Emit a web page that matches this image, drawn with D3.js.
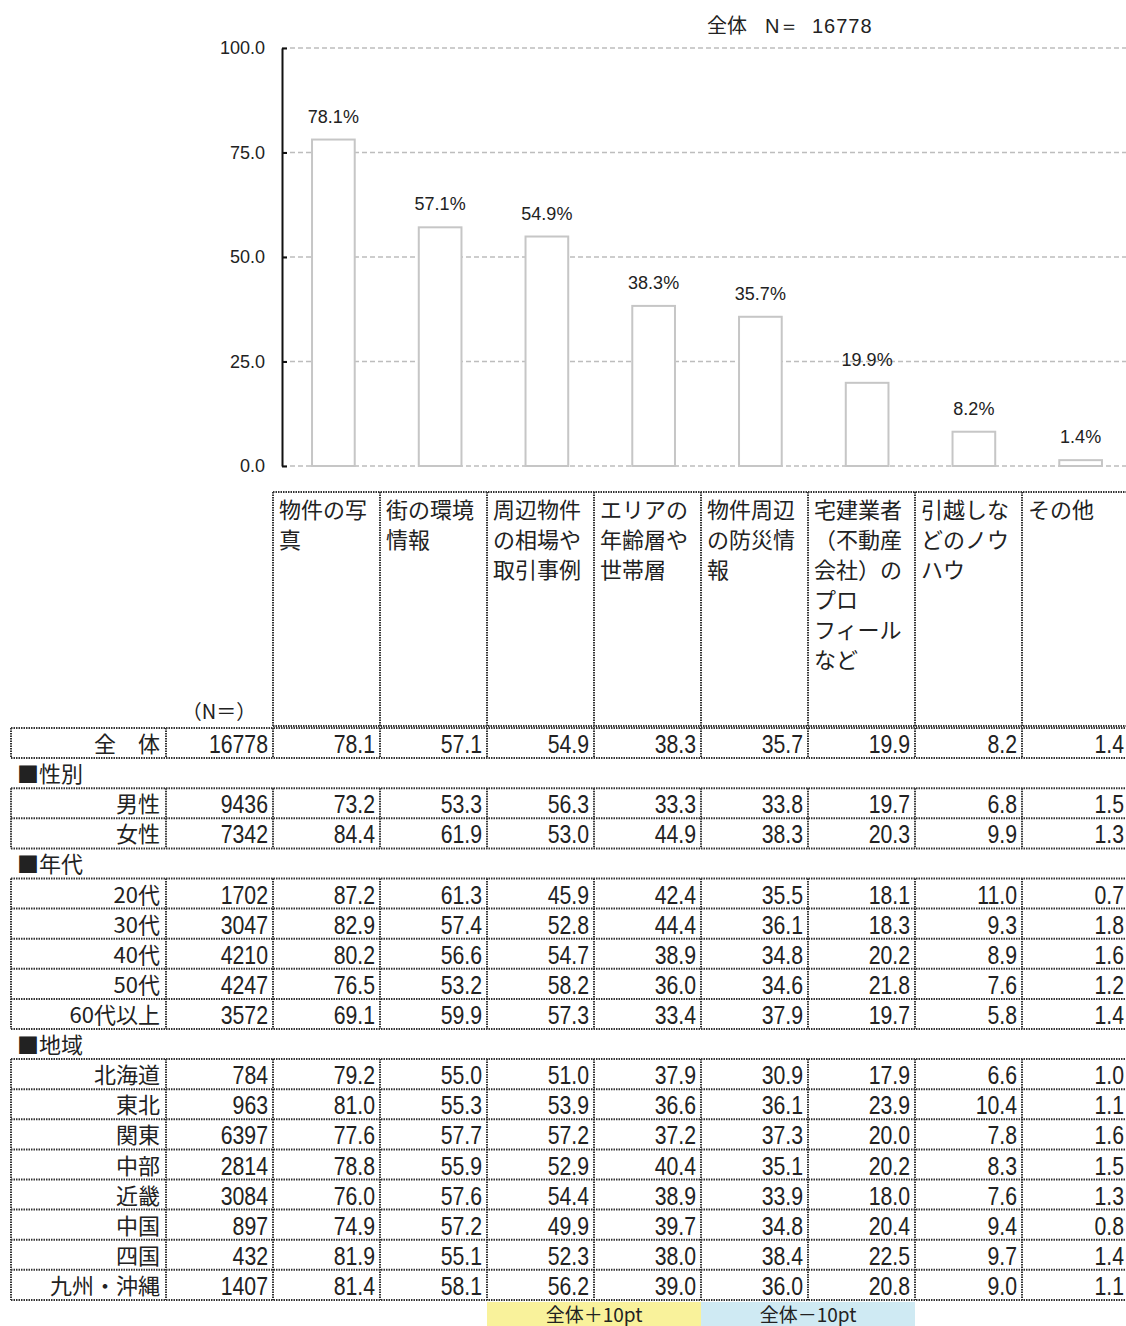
<!DOCTYPE html>
<html><head><meta charset="utf-8">
<script src="https://cdn.jsdelivr.net/npm/d3@7"></script>
<style>
html,body{margin:0;padding:0;background:#fff;}
svg{display:block;}
</style></head>
<body>
<script>
// ---------- DATA ----------
const categories = ["物件の写真","街の環境情報","周辺物件の相場や取引事例","エリアの年齢層や世帯層","物件周辺の防災情報","宅建業者（不動産会社）のプロフィールなど","引越しなどのノウハウ","その他"];
const headerLines = [
  ["物件の写","真"],
  ["街の環境","情報"],
  ["周辺物件","の相場や","取引事例"],
  ["エリアの","年齢層や","世帯層"],
  ["物件周辺","の防災情","報"],
  ["宅建業者","（不動産","会社）の","プロ","フィール","など"],
  ["引越しな","どのノウ","ハウ"],
  ["その他"]
];
const overallLabel = "全　体";
const overallN = 16778;
const overallValues = [78.1,57.1,54.9,38.3,35.7,19.9,8.2,1.4];
const yTicks = [0,25,50,75,100];

const genderTitle = "■性別";
const genderLabels = ["男性","女性"];
const genderN = [9436,7342];
const genderValues = [
  [73.2,53.3,56.3,33.3,33.8,19.7,6.8,1.5],
  [84.4,61.9,53.0,44.9,38.3,20.3,9.9,1.3]
];
const ageTitle = "■年代";
const ageLabels = ["20代","30代","40代","50代","60代以上"];
const ageN = [1702,3047,4210,4247,3572];
const ageValues = [
  [87.2,61.3,45.9,42.4,35.5,18.1,11.0,0.7],
  [82.9,57.4,52.8,44.4,36.1,18.3,9.3,1.8],
  [80.2,56.6,54.7,38.9,34.8,20.2,8.9,1.6],
  [76.5,53.2,58.2,36.0,34.6,21.8,7.6,1.2],
  [69.1,59.9,57.3,33.4,37.9,19.7,5.8,1.4]
];
const regionTitle = "■地域";
const regionLabels = ["北海道","東北","関東","中部","近畿","中国","四国","九州・沖縄"];
const regionN = [784,963,6397,2814,3084,897,432,1407];
const regionValues = [
  [79.2,55.0,51.0,37.9,30.9,17.9,6.6,1.0],
  [81.0,55.3,53.9,36.6,36.1,23.9,10.4,1.1],
  [77.6,57.7,57.2,37.2,37.3,20.0,7.8,1.6],
  [78.8,55.9,52.9,40.4,35.1,20.2,8.3,1.5],
  [76.0,57.6,54.4,38.9,33.9,18.0,7.6,1.3],
  [74.9,57.2,49.9,39.7,34.8,20.4,9.4,0.8],
  [81.9,55.1,52.3,38.0,38.4,22.5,9.7,1.4],
  [81.4,58.1,56.2,39.0,36.0,20.8,9.0,1.1]
];
const legendItems = ["全体＋10pt","全体－10pt"];
const titleParts = ["全体","N＝","16778"];
const nHeader = "（N＝）";

// ---------- STYLE ----------
const W = 1126, H = 1326;
const JP = "'Noto Sans CJK JP','Noto Sans CJK SC',sans-serif";
const NUM = "'Liberation Sans Narrow','Arial Narrow','Liberation Sans',sans-serif";
const SANS = "'Liberation Sans',Arial,sans-serif";
const textColor = "#222";
const borderColor = "#333";
const upColor = "#f9f29b";
const downColor = "#cfeaf3";

const svg = d3.select("body").append("svg").attr("width", W).attr("height", H);

// ---------- CHART ----------
const y = d3.scaleLinear().domain([0,100]).range([466,48]);
const xBar = d3.scaleBand().domain(categories).range([280,1134]).padding(0);
const barW = xBar.bandwidth()*0.4;
const axisX = 282;

svg.append("g").selectAll("line").data(yTicks).join("line")
  .attr("x1", axisX).attr("x2", W)
  .attr("y1", d=>y(d)).attr("y2", d=>y(d))
  .attr("stroke", "#bdbdbd").attr("stroke-width", 1.5).attr("stroke-dasharray", "5 3");

const yAxis = svg.append("g").attr("transform", `translate(${axisX},0)`)
  .call(d3.axisLeft(y).tickValues(yTicks).tickFormat(d3.format(".1f")).tickSizeInner(-5).tickSizeOuter(0).tickPadding(17));
yAxis.select(".domain").attr("stroke", "#111").attr("stroke-width", 2);
yAxis.selectAll(".tick line").attr("stroke", "#111").attr("stroke-width", 2);
yAxis.selectAll(".tick text").attr("font-family", SANS).attr("font-size", 18).attr("fill", textColor);

svg.append("g").selectAll("rect").data(overallValues).join("rect")
  .attr("x", (d,i)=>xBar(categories[i]) + xBar.bandwidth()/2 - barW/2)
  .attr("width", barW)
  .attr("y", d=>y(d)).attr("height", d=>y(0)-y(d))
  .attr("fill", "#fff").attr("stroke", "#c6c6c6").attr("stroke-width", 2);

svg.append("g").selectAll("text").data(overallValues).join("text")
  .attr("x", (d,i)=>xBar(categories[i]) + xBar.bandwidth()/2)
  .attr("y", d=>y(d) - 17)
  .attr("text-anchor", "middle")
  .attr("font-family", SANS).attr("font-size", 18).attr("fill", textColor)
  .text(d=>d3.format(".1f")(d) + "%");

const titleX = [707, 765, 812];
titleParts.forEach((t,i)=>{
  svg.append("text").attr("x", titleX[i]).attr("y", 33)
    .attr("font-family", i===0 ? JP : SANS).attr("font-size", 20).attr("fill", textColor)
    .attr("letter-spacing", i===2 ? 1 : 0)
    .text(t);
});

// ---------- TABLE ----------
const xCol = d3.scaleBand().domain(categories).range([273,1129]).padding(0);
const tableLeft = 11, labelRight = 166, nRight = 273;
const rowH = 30.1;
const border = (g, x1,y1,x2,y2) => g.append("line").attr("x1",x1).attr("y1",y1).attr("x2",x2).attr("y2",y2)
  .attr("stroke", borderColor).attr("stroke-width", 2).attr("stroke-dasharray", "1.5 1");
const numText = (g, x, yb, t) => g.append("text")
  .attr("transform", `translate(${x},${yb}) scale(0.85,1)`)
  .attr("text-anchor","end")
  .attr("font-family", NUM).attr("font-size", 25).attr("fill", textColor).text(t);

const tbl = svg.append("g");

const headTop = 492, headBottom = 726;
categories.forEach((c,i)=>{
  const x0 = xCol(c);
  headerLines[i].forEach((line,j)=>{
    tbl.append("text").attr("x", x0+6).attr("y", headTop + 26 + j*30)
      .attr("font-family", JP).attr("font-size", 22).attr("fill", textColor).text(line);
  });
});
border(tbl, nRight, headTop, W+5, headTop);
border(tbl, nRight, headBottom, W+5, headBottom);
categories.forEach(c=>{ border(tbl, xCol(c), headTop, xCol(c), headBottom); });
border(tbl, xCol.range()[1], headTop, xCol.range()[1], headBottom);
tbl.append("text").attr("x", 219).attr("y", 719).attr("text-anchor","middle")
  .attr("font-family", JP).attr("font-size", 20).attr("fill", textColor).text(nHeader);

const fmt = d3.format(".1f");
function drawGroup(top, labels, ns, values) {
  const g = tbl.append("g");
  const bottom = top + labels.length*rowH;
  labels.forEach((lab,r)=>{
    const ry = top + r*rowH;
    values[r].forEach((v,i)=>{
      const diff = v - overallValues[i];
      if (diff >= 10 || diff <= -10) {
        g.append("rect").attr("x", xCol(categories[i])).attr("y", ry)
          .attr("width", xCol.bandwidth()).attr("height", rowH)
          .attr("fill", diff >= 10 ? upColor : downColor);
      }
    });
  });
  labels.forEach((lab,r)=>{
    const ry = top + r*rowH;
    const base = ry + rowH - 5;
    g.append("text").attr("x", labelRight-6).attr("y", base-1).attr("text-anchor","end")
      .attr("font-family", JP).attr("font-size", 22).attr("fill", textColor).text(lab);
    numText(g, nRight-5, base, ns[r]);
    values[r].forEach((v,i)=>{
      numText(g, xCol(categories[i]) + xCol.bandwidth() - 5, base, fmt(v));
    });
  });
  for (let r=0; r<=labels.length; r++) border(g, tableLeft, top + r*rowH, W+5, top + r*rowH);
  [tableLeft, labelRight, nRight].concat(categories.map(c=>xCol(c)+xCol.bandwidth()))
    .forEach(x=>border(g, x, top, x, bottom));
  return bottom;
}
function sectionTitle(top, t) {
  tbl.append("text").attr("x", 17).attr("y", top + 24)
    .attr("font-family", JP).attr("font-size", 22).attr("fill", textColor).text(t);
  return top + rowH;
}

let cy = 728;
cy = drawGroup(cy, [overallLabel], [overallN], [overallValues]);
cy = sectionTitle(cy, genderTitle);
cy = drawGroup(cy, genderLabels, genderN, genderValues);
cy = sectionTitle(cy, ageTitle);
cy = drawGroup(cy, ageLabels, ageN, ageValues);
cy = sectionTitle(cy, regionTitle);
cy = drawGroup(cy, regionLabels, regionN, regionValues);

const legY = cy + 2;
legendItems.forEach((t,i)=>{
  const x0 = xCol(categories[2 + i*2]);
  const w = xCol.bandwidth()*2;
  tbl.append("rect").attr("x", x0).attr("y", legY).attr("width", w).attr("height", H-legY)
    .attr("fill", i===0 ? upColor : downColor);
  tbl.append("text").attr("x", x0 + w/2).attr("y", H - 4).attr("text-anchor","middle")
    .attr("font-family", JP).attr("font-size", 19).attr("fill", textColor).text(t);
});
</script>
</body></html>
